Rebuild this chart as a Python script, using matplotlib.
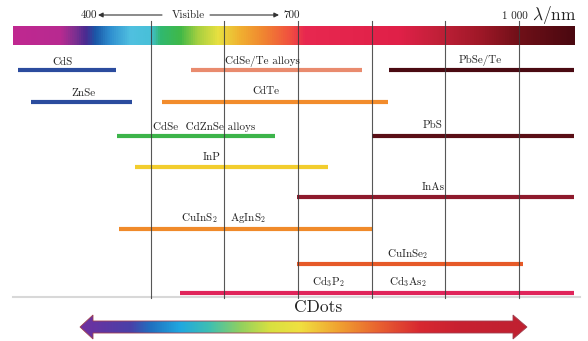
import numpy as np
import matplotlib
matplotlib.use("Agg")
import matplotlib.pyplot as plt
from matplotlib.colors import LinearSegmentedColormap
from matplotlib.patches import Polygon

plt.rcParams['font.family'] = 'serif'
plt.rcParams['font.serif'] = ['cmr10', 'DejaVu Serif']
plt.rcParams['mathtext.fontset'] = 'cm'
plt.rcParams['axes.formatter.use_mathtext'] = True

# emission ranges (nm) of each material family
bar_start = [320, 338, 555, 515, 454, 823, 800, 479, 698, 457, 698, 540]
bar_end = [453, 475, 787, 822, 669, 1074, 1074, 740, 1074, 800, 1005, 1074]
bar_row = [70, 102, 70, 102, 136, 70, 136, 167, 197, 229, 264, 293]
bar_color = ['#2b4c9e', '#2b4c9e', '#e98b6e', '#f28c2c', '#3cb44a', '#4a0a12',
             '#5a0f16', '#f2cd2e', '#8e1a2c', '#f08a2a', '#e65a28', '#e0245a']

labels = ['CdS', 'ZnSe', 'CdSe/Te alloys', 'CdTe', r'CdSe  CdZnSe alloys',
          'PbSe/Te', 'PbS', 'InP', 'InAs', r'CuInS$_2$', r'AgInS$_2$',
          r'CuInSe$_2$', r'Cd$_3$P$_2$', r'Cd$_3$As$_2$']
label_x = [380, 409, 651, 656, 572, 947, 882, 583, 883, 566, 632, 849, 741, 849]
label_y = [62, 93, 61, 91, 127, 60, 125, 157, 187, 218, 218, 254, 282, 282]

grid_nm = [500, 600, 700, 800, 900, 1000]


def px2nm(p):
    return 400 + (p - 77) / 0.737


fig = plt.figure(figsize=(5.88, 3.41), dpi=100)
ax = fig.add_axes([0, 0, 1, 1])
ax.set_xlim(px2nm(0), px2nm(588))
ax.set_ylim(341, 0)
ax.axis('off')

# spectrum strip
spec_px = [13, 60, 75, 85, 95, 110, 130, 150, 160, 180, 198, 218, 240, 262, 290,
           305, 400, 440, 480, 520, 575]
spec_col = ['#c02890', '#b82a90', '#7a3090', '#4a2a90', '#1a58a8', '#3090d0',
            '#50c0e0', '#48c0d8', '#30b870', '#40b848', '#a8d040', '#e8e040',
            '#f0b030', '#f08830', '#f05040', '#e82850', '#e02048', '#c02038',
            '#a01828', '#701018', '#4a0810']
pos = [(p - spec_px[0]) / (spec_px[-1] - spec_px[0]) for p in spec_px]
spec_cmap = LinearSegmentedColormap.from_list('spec', list(zip(pos, spec_col)))
grad = np.linspace(0, 1, 512).reshape(1, -1)
ax.imshow(grad, cmap=spec_cmap, aspect='auto',
          extent=[px2nm(13), px2nm(575), 45, 26], zorder=1)

# baseline
ax.plot([px2nm(13), px2nm(580)], [296.5, 296.5], color='#d8d8d8', lw=1.5, zorder=1)

# material bars
for s, e, r, c in zip(bar_start, bar_end, bar_row, bar_color):
    ax.plot([s, e], [r, r], color=c, lw=3.0, solid_capstyle='butt', zorder=2)

# grid lines
for g in grid_nm:
    ax.plot([g, g], [21, 298], color='#3a3a3a', lw=0.8, alpha=0.85, zorder=3)

for t, x, y in zip(labels, label_x, label_y):
    ax.text(x, y, t, fontsize=8, ha='center', va='center', color='#222222', zorder=4)

# header
ax.text(px2nm(97), 15, '400', fontsize=8, ha='right', va='center', color='#222222')
ax.text(px2nm(283), 15, '700', fontsize=8, ha='left', va='center', color='#222222')
ax.text(px2nm(188), 15, 'Visible', fontsize=8, ha='center', va='center', color='#222222')
ax.annotate('', xy=(px2nm(98), 15), xytext=(px2nm(162), 15),
            arrowprops=dict(arrowstyle='-|>', color='#333333', lw=0.8,
                            mutation_scale=7, shrinkA=0, shrinkB=0))
ax.annotate('', xy=(px2nm(279), 15), xytext=(px2nm(210), 15),
            arrowprops=dict(arrowstyle='-|>', color='#333333', lw=0.8,
                            mutation_scale=7, shrinkA=0, shrinkB=0))
ax.text(px2nm(528), 16, '1 000', fontsize=8, ha='right', va='center', color='#222222')
ax.text(px2nm(532), 15, r'$\lambda$/nm', fontsize=12.5, ha='left', va='center',
        color='#222222')

# CDots arrow
ax.text(px2nm(318), 307, 'CDots', fontsize=12.5, ha='center', va='center',
        color='#222222')
ax_pts = [(80, 327), (93, 315), (93, 321), (513, 321), (513, 315), (527, 327),
          (513, 339), (513, 333), (93, 333), (93, 339)]
poly = Polygon([(px2nm(x), y) for x, y in ax_pts], closed=True,
               facecolor='none', edgecolor='#a04050', lw=0.6, zorder=6)
ax.add_patch(poly)
arr_px = [80, 130, 150, 180, 210, 240, 270, 300, 340, 380, 420, 460, 527]
arr_col = ['#7030a0', '#4a40a8', '#2070c0', '#20a8e0', '#40c0b0', '#90d060',
           '#d8e040', '#f0e040', '#f0a030', '#e86030', '#d82830', '#c82030',
           '#c02030']
apos = [(p - arr_px[0]) / (arr_px[-1] - arr_px[0]) for p in arr_px]
arr_cmap = LinearSegmentedColormap.from_list('arr', list(zip(apos, arr_col)))
im = ax.imshow(grad, cmap=arr_cmap, aspect='auto',
               extent=[px2nm(80), px2nm(527), 340, 314], zorder=5)
im.set_clip_path(poly)

fig.savefig('out.png', dpi=100)
